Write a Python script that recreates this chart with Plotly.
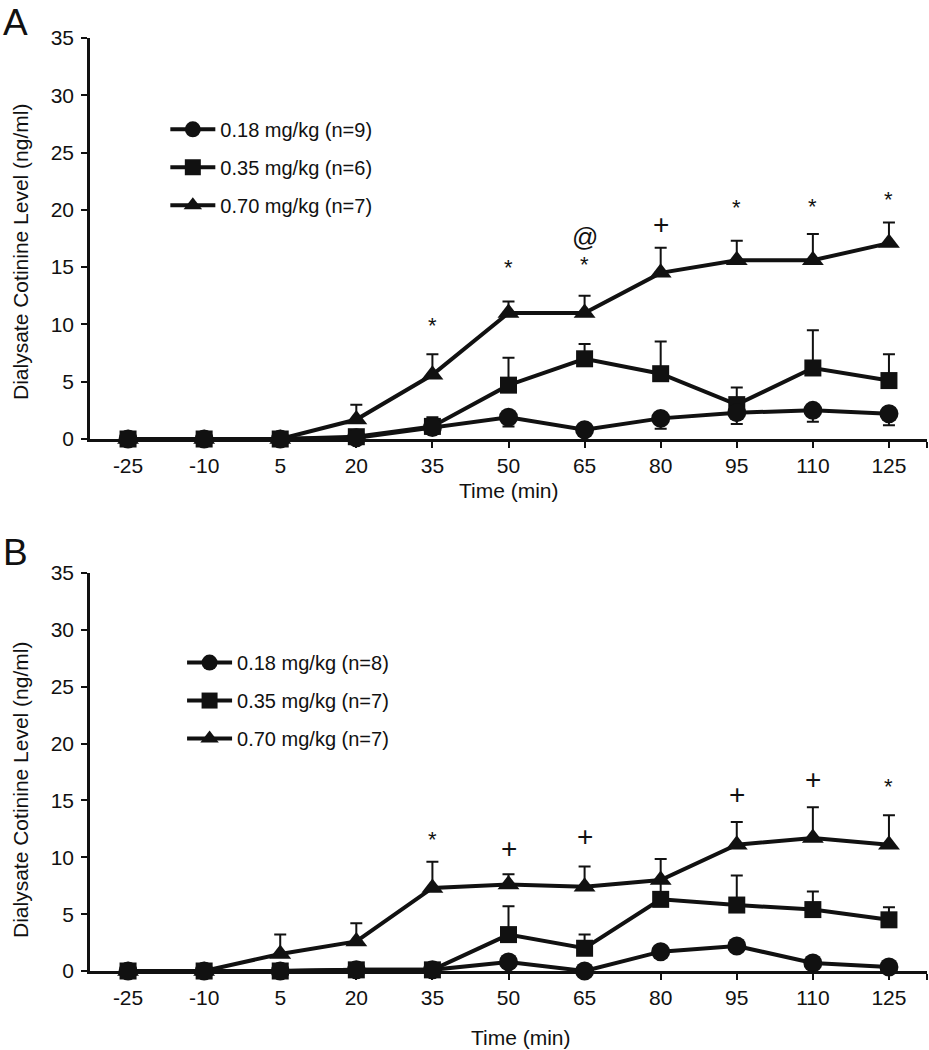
import plotly.graph_objects as go

# ---------------- data ----------------
times = [-25, -10, 5, 20, 35, 50, 65, 80, 95, 110, 125]
time_labels = [str(t) for t in times]

# Panel A
a_low = [0, 0, 0, 0.1, 1.0, 1.9, 0.8, 1.8, 2.3, 2.5, 2.2]
a_low_err = [0, 0, 0, 0, 0.3, 0.8, 0.5, 0.9, 1.0, 1.0, 1.0]
a_mid = [0, 0, 0, 0.2, 1.1, 4.7, 7.0, 5.7, 3.0, 6.2, 5.1]
a_mid_err = [0, 0, 0, 0.2, 0.8, 2.4, 1.3, 2.8, 1.5, 3.3, 2.3]
a_high = [0, 0, 0, 1.7, 5.6, 11.0, 11.0, 14.5, 15.6, 15.6, 17.1]
a_high_err = [0, 0, 0, 1.3, 1.8, 1.0, 1.5, 2.2, 1.7, 2.3, 1.8]

# Panel B
b_low = [0, 0, 0, 0.1, 0.1, 0.8, 0.0, 1.7, 2.2, 0.7, 0.35]
b_low_err = [0, 0, 0, 0, 0, 0.3, 0, 0.3, 0.4, 0.3, 0.2]
b_mid = [0, 0, 0, 0.1, 0.1, 3.2, 2.0, 6.3, 5.8, 5.4, 4.5]
b_mid_err = [0, 0, 0, 0.1, 0.2, 2.5, 1.2, 1.5, 2.6, 1.6, 1.1]
b_high = [0, 0, 1.5, 2.6, 7.3, 7.6, 7.4, 8.0, 11.1, 11.7, 11.1]
b_high_err = [0, 0, 1.7, 1.6, 2.3, 0.9, 1.8, 1.85, 2.0, 2.7, 2.6]

names_a = ["0.18 mg/kg (n=9)", "0.35 mg/kg (n=6)", "0.70 mg/kg (n=7)"]
names_b = ["0.18 mg/kg (n=8)", "0.35 mg/kg (n=7)", "0.70 mg/kg (n=7)"]

# significance marks
sig_a_x = [35, 50, 65, 65, 80, 95, 110, 125]
sig_a_text = ["*", "*", "*", "@", "+", "*", "*", "*"]
sig_a_y = [9.9, 15.0, 15.2, 17.6, 18.7, 20.2, 20.3, 20.9]
sig_b_x = [35, 50, 65, 95, 110, 125]
sig_b_text = ["*", "+", "+", "+", "+", "*"]
sig_b_y = [11.6, 10.8, 11.8, 15.5, 16.8, 16.2]

y_ticks = [0, 5, 10, 15, 20, 25, 30, 35]

# ---------------- figure ----------------
INK = "#111111"
FONT = "Liberation Sans, Arial, Helvetica, sans-serif"
fig = go.Figure()

symbols = ["circle", "square", "triangle-up"]
sizes = [19, 17, 19]


def add_series(x, y, err, name, idx, xa, ya, legend, minus, rank):
    if minus:
        ey = dict(type="data", symmetric=False, array=[0] * len(err), arrayminus=err,
                  color=INK, thickness=2, width=6)
    else:
        ey = dict(type="data", symmetric=False, array=err, arrayminus=[0] * len(err),
                  color=INK, thickness=2, width=6)
    fig.add_trace(go.Scatter(
        x=x, y=y, name=name, mode="lines+markers", xaxis=xa, yaxis=ya,
        line=dict(color=INK, width=4),
        marker=dict(symbol=symbols[idx], size=sizes[idx], color=INK),
        error_y=ey, cliponaxis=False, legend=legend, legendrank=rank,
        legendgroup=legend + str(idx),
    ))


# Panel A: squares, triangles, then circles on top
add_series(times, a_mid, a_mid_err, names_a[1], 1, "x", "y", "legend", False, 2)
add_series(times, a_high, a_high_err, names_a[2], 2, "x", "y", "legend", False, 3)
add_series(times, a_low, a_low_err, names_a[0], 0, "x", "y", "legend", True, 1)
# Panel B: circles, triangles, then squares on top
add_series(times, b_low, b_low_err, names_b[0], 0, "x2", "y2", "legend2", True, 1)
add_series(times, b_high, b_high_err, names_b[2], 2, "x2", "y2", "legend2", False, 3)
add_series(times, b_mid, b_mid_err, names_b[1], 1, "x2", "y2", "legend2", False, 2)

tick_font = dict(family=FONT, size=21, color=INK)
xaxis_common = dict(
    range=[-32.5, 132.5], tickvals=times + [132.5], ticktext=time_labels + [""],
    showline=True, linewidth=2.5, linecolor=INK, ticks="outside", ticklen=6,
    tickwidth=2, tickcolor=INK, showgrid=False, zeroline=False, tickfont=tick_font,
    ticklabelstandoff=0,
)
yaxis_common = dict(
    range=[0, 35], tickvals=y_ticks, showline=True, linewidth=2.5, linecolor=INK,
    ticks="outside", ticklen=6, tickwidth=2, tickcolor=INK, showgrid=False,
    zeroline=False, tickfont=tick_font, ticklabelstandoff=3,
)

legend_common = dict(
    font=dict(family=FONT, size=20, color=INK), bgcolor="rgba(0,0,0,0)",
    xanchor="left", yanchor="top", tracegroupgap=9, itemwidth=45,
    traceorder="grouped",
)

fig.update_layout(
    width=929, height=1050,
    margin=dict(l=90, r=2, t=38, b=79),
    paper_bgcolor="white", plot_bgcolor="white",
    font=dict(family=FONT, color=INK),
    xaxis=dict(domain=[0, 1], anchor="y", **xaxis_common),
    yaxis=dict(domain=[0.5702, 1], anchor="x", **yaxis_common),
    xaxis2=dict(domain=[0, 1], anchor="y2", **xaxis_common),
    yaxis2=dict(domain=[0, 0.4266], anchor="x2", **yaxis_common),
    legend=dict(x=0.09, y=0.9230, **legend_common),
    legend2=dict(x=0.11, y=0.3515, **legend_common),
    showlegend=True,
)

annotations = []
sym_font = {"*": 22, "+": 28, "@": 26}
for xs, ys, ts, xr, yr in [(sig_a_x, sig_a_y, sig_a_text, "x", "y"),
                           (sig_b_x, sig_b_y, sig_b_text, "x2", "y2")]:
    for xv, yv, tv in zip(xs, ys, ts):
        annotations.append(dict(
            x=xv, y=yv, xref=xr, yref=yr, text=tv, showarrow=False,
            font=dict(family=FONT, size=sym_font[tv], color=INK),
            xanchor="center", yanchor="middle",
        ))

# axis titles
for txt, xpx, ypx in [("Time (min)", 509, 490), ("Time (min)", 521, 1037)]:
    annotations.append(dict(text=txt, showarrow=False,
                            x=(xpx - 90) / 837, xref="paper",
                            y=(971 - ypx) / 933, yref="paper",
                            xanchor="center", yanchor="middle",
                            font=dict(family=FONT, size=21, color=INK)))
for ypx in [252, 790]:
    annotations.append(dict(text="Dialysate Cotinine Level (ng/ml)", showarrow=False,
                            textangle=-90, x=(20 - 90) / 837, xref="paper",
                            y=(971 - ypx) / 933, yref="paper",
                            xanchor="center", yanchor="middle",
                            font=dict(family=FONT, size=21, color=INK)))
# panel letters
for letter, ypx in [("A", 22), ("B", 552)]:
    annotations.append(dict(text=letter, showarrow=False,
                            x=(1 - 90) / 837, xref="paper", xanchor="left",
                            y=(971 - ypx) / 933, yref="paper", yanchor="middle",
                            font=dict(family=FONT, size=37, color=INK)))

fig.update_layout(annotations=annotations)
fig.write_html("out.html", config={"displayModeBar": False},
               post_script="document.body.style.margin='0';document.body.style.overflow='hidden';")
